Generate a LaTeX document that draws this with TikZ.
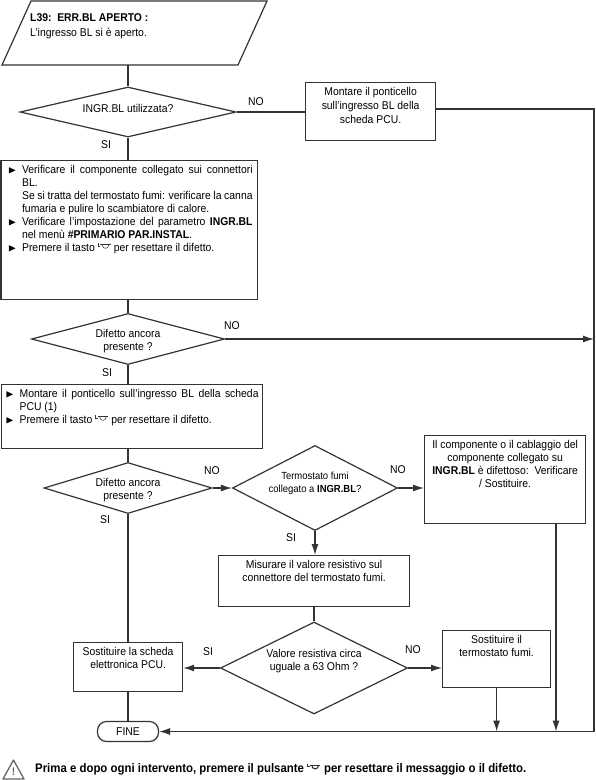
\documentclass[tikz,border=0pt]{standalone}
\usepackage{amssymb}
\usepackage{fontspec}
\setmainfont[FakeStretch=0.92]{Liberation Sans}
\usetikzlibrary{arrows.meta,shapes.geometric,calc}
\definecolor{inkline}{HTML}{333333}
\tikzset{
	flowline/.style={draw=inkline,line width=1.2pt},
	flowarrow/.style={flowline,-{Latex[length=11pt,width=7pt]}},
	flowbox/.style={draw=inkline,line width=1.2pt,rectangle,inner sep=0pt,anchor=north west,text=black},
	decision/.style={draw=inkline,line width=1.2pt,diamond,inner sep=0pt,text=black},
	flowlabel/.style={inner sep=0pt,text=black},
}
\newcommand{\boxtext}[3]{\parbox[c][#2][t]{#1}{\fontsize{11.3}{13}\selectfont\vspace*{5pt}#3}}
\newcommand{\qtext}[3]{\makebox[0pt]{\smash{\raisebox{#2}{\parbox[c]{160pt}{\centering\fontsize{#1}{13}\selectfont #3}}}}}
\newcommand{\bulletitem}[1]{\hangindent=14pt\hangafter=1\makebox[14pt][l]{\raisebox{.3pt}{\scalebox{.95}{$\blacktriangleright$}}}#1\par}
\newcommand{\contitem}[1]{\hangindent=14pt\hangafter=0 #1\par}
\newcommand{\resetmark}[1][.5pt]{\tikz[x=1.15pt,y=1.1pt,baseline=0pt,line width=#1,draw=inkline]{
	\draw (0,8) -- (0,5) -- (2,5);
	\draw (2,6.5) -- (11,6.5);
	\draw (3.5,6.5) .. controls (4,2) and (9,2) .. (9.5,6.5);
}}

\begin{document}
\begin{tikzpicture}[x=1pt,y=-1pt]
	\useasboundingbox (0,0) rectangle (596,780);

	%alarm parallelogram
	\coordinate (alarmtl) at (31,1);
	\coordinate (alarmtr) at (267,1);
	\coordinate (alarmbr) at (238,65);
	\coordinate (alarmbl) at (2,65);
	\coordinate (alarmout) at (128,65);
	\draw[flowline,line join=miter] (alarmtl) -- (alarmtr) -- (alarmbr) -- (alarmbl) -- cycle;
	\node[flowlabel,anchor=north west,align=left,font=\fontsize{11.3}{15}\selectfont] (alarmtext) at (30,13) {\textbf{L39:\, ERR.BL APERTO :}\\L'ingresso BL si è aperto.};

	%decisions
	\node[decision,minimum width=216pt,minimum height=50pt] (qinput) at (128,112) {\qtext{11.3}{1.5pt}{INGR.BL utilizzata?}};
	\node[decision,minimum width=193pt,minimum height=51pt] (qfaulta) at (128,339) {\qtext{11.3}{-4.5pt}{Difetto ancora\\presente ?}};
	\node[decision,minimum width=168pt,minimum height=51pt] (qfaultb) at (128,488) {\qtext{11.3}{-4.5pt}{Difetto ancora\\presente ?}};
	\node[decision,minimum width=165pt,minimum height=85pt] (qflue) at (315,488) {\qtext{10.3}{2.5pt}{Termostato fumi\\collegato a \textbf{INGR.BL}?}};
	\node[decision,minimum width=187pt,minimum height=92pt] (qohm) at (314,668) {\qtext{11.3}{4.5pt}{Valore resistiva circa\\uguale a 63 Ohm ?}};

	%boxes
	\node[flowbox] (bridgeb) at (305,82) {\boxtext{130pt}{58pt}{\centering Montare il ponticello\\[1pt]sull'ingresso BL della\\[1pt]scheda PCU.}};
	\node[flowbox] (checks) at (0.5,160) {\boxtext{256.5pt}{139pt}{\leftskip=7pt\rightskip=5pt
		\bulletitem{Verificare il componente collegato sui connettori BL.}
		\contitem{Se si tratta del termostato fumi: verificare la canna fumaria e pulire lo scambiatore di calore.}
		\bulletitem{Verificare l'impostazione del parametro \textbf{INGR.BL} nel menù \textbf{\#PRIMARIO PAR.INSTAL}.}
		\bulletitem{Premere il tasto \resetmark{} per resettare il difetto.}}};
	\node[flowbox] (bridgea) at (1,384) {\boxtext{261pt}{64pt}{\leftskip=4pt\rightskip=4pt
		\bulletitem{Montare il ponticello sull'ingresso BL della scheda PCU (1)}
		\bulletitem{Premere il tasto \resetmark{} per resettare il difetto.}}};
	\node[flowbox] (fault) at (424,435) {\boxtext{161pt}{88pt}{\centering Il componente o il cablaggio del\\componente collegato su\\\textbf{INGR.BL} è difettoso:\, Verificare\\/ Sostituire.}};
	\node[flowbox] (measure) at (218,555) {\boxtext{191pt}{51pt}{\centering Misurare il valore resistivo sul\\connettore del termostato fumi.}};
	\node[flowbox] (pcu) at (73,642) {\boxtext{109pt}{49pt}{\centering Sostituire la scheda\\elettronica PCU.}};
	\node[flowbox] (thermo) at (442,630) {\boxtext{108pt}{57pt}{\centering Sostituire il\\termostato fumi.}};
	\node[draw=inkline,line width=1.2pt,rounded corners=9pt,minimum width=61pt,minimum height=20pt,inner sep=0pt,font=\fontsize{11.3}{13}\selectfont] (fine) at (128,731.5) {FINE};

	%bus on the right
	\coordinate (busend) at (594,731.5);
	\coordinate (busstart) at (435,109);
	\coordinate (faultout) at (556,523);

	%connectors
	\draw[flowline] (alarmout) -- (qinput.north);
	\draw[flowline] (qinput.east) -- (bridgeb.west |- qinput.east);
	\draw[flowarrow] (busstart) -| (busend) -- (fine.east);
	\draw[flowline] (qinput.south) -- (checks.north -| qinput.south);
	\draw[flowline] (checks.south -| qfaulta.north) -- (qfaulta.north);
	\draw[flowarrow] (qfaulta.east) -- (qfaulta.east -| busend);
	\draw[flowline] (qfaulta.south) -- (bridgea.north -| qfaulta.south);
	\draw[flowline] (bridgea.south -| qfaultb.north) -- (qfaultb.north);
	\draw[flowarrow] (qfaultb.east) -- (qflue.west);
	\draw[flowline] (qfaultb.south) -- (pcu.north -| qfaultb.south);
	\draw[flowarrow] (qflue.east) -- (fault.west |- qflue.east);
	\draw[flowarrow] (qflue.south) -- (measure.north -| qflue.south);
	\draw[flowline] (measure.south -| qohm.north) -- (qohm.north);
	\draw[flowarrow] (qohm.west) -- (pcu.east |- qohm.west);
	\draw[flowarrow] (qohm.east) -- (thermo.west |- qohm.east);
	\draw[flowline] (pcu.south -| fine.north) -- (fine.north);
	\draw[flowarrow] (thermo.south) -- (thermo.south |- busend);
	\draw[flowarrow] (faultout) -- (faultout |- busend);

	%yes/no labels
	\foreach \lname/\lx/\ly/\ltext in {noa/256/102/NO,sia/106/145/SI,nob/232/326/NO,sib/107/373/SI,noc/212/471/NO,sic/105/520/SI,nod/398/470/NO,sid/291/538/SI,noe/413/650/NO,sie/208/652/SI}{
		\node[flowlabel,font=\fontsize{11.3}{13}\selectfont] (\lname) at (\lx,\ly) {\ltext};
	}

	%warning footer
	\coordinate (warna) at (3,779);
	\coordinate (warnb) at (13.5,760);
	\coordinate (warnc) at (24,779);
	\draw[draw=black!60,line width=1.3pt,line join=round] (warna) -- (warnb) -- (warnc) -- cycle;
	\node[flowlabel,font=\fontsize{11}{11}\selectfont\bfseries,text=black!60] (warnmark) at (13.5,771.5) {!};
	\node[flowlabel,anchor=west,font=\fontsize{12.4}{13}\selectfont\bfseries] (footer) at (35,769) {Prima e dopo ogni intervento, premere il pulsante \resetmark[1.1pt]{} per resettare il messaggio o il difetto.};
\end{tikzpicture}
\end{document}
